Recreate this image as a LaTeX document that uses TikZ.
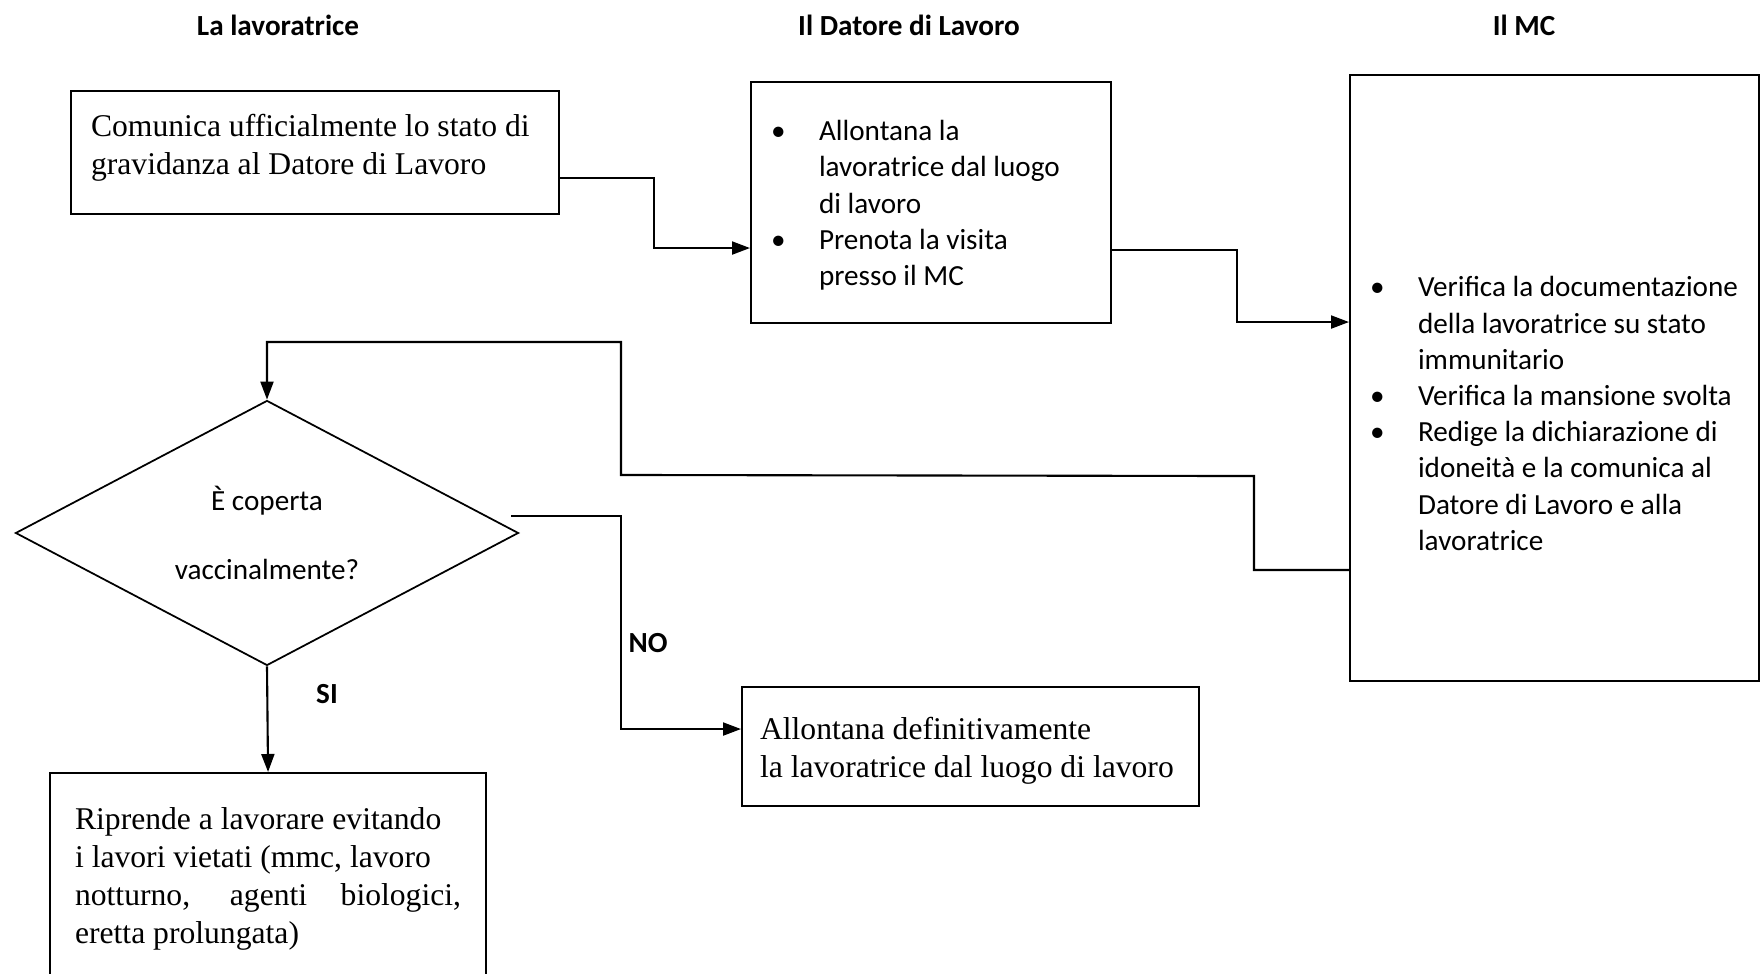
\documentclass[tikz,border=0pt]{standalone}
\usepackage{fontspec}
\setmainfont{Liberation Serif}
\newfontfamily\carlito{Carlito}
\usetikzlibrary{arrows.meta,shapes.geometric}

\setlength{\parindent}{0pt}
\newcommand{\fonttimes}{\fontsize{9}{10.8}\selectfont}
\newcommand{\fontcal}{\carlito\fontsize{8.3}{10.3}\selectfont}
\newcommand{\fonttitolo}{\carlito\bfseries\fontsize{8.3}{10}\selectfont}
\newlength{\rientro}
\setlength{\rientro}{0.58cm}
% una riga con il punto, una riga di seguito
\newcommand{\punto}{\par\makebox[\rientro][l]{\hspace{0.1cm}\textbullet}}
\newcommand{\segue}{\par\hspace*{\rientro}}

\tikzset{
  casella/.style={draw, line width=0.6pt, anchor=north west, inner xsep=0.2cm, inner ysep=0pt, align=flush left, font=\fonttimes},
  elenco/.style={casella, inner xsep=0.1cm, font=\fontcal},
  domanda/.style={diamond, draw, line width=0.5pt, inner sep=0pt, aspect=2, align=center, font=\fontcal},
  titolo/.style={font=\fonttitolo},
  freccia/.style={line width=0.6pt, -{Triangle[length=1.8mm,width=1.3mm]}}
}

\begin{document}
\begin{tikzpicture}
\useasboundingbox (0,0) rectangle (17.6,-9.74);
% intestazioni
\node[titolo] (tlav) at (2.78,-0.25) {La lavoratrice};
\node[titolo] (tdat) at (9.09,-0.25) {Il Datore di Lavoro};
\node[titolo] (tmc) at (15.24,-0.25) {Il MC};
% caselle
\node[casella, text width=4.48cm, minimum height=1.23cm] (comunica) at (0.70,-0.90)
  {Comunica ufficialmente lo stato di\\gravidanza al Datore di Lavoro\rule[-4.6pt]{0pt}{0pt}};
\node[elenco, text width=3.40cm, minimum height=2.41cm] (allontana) at (7.50,-0.81)
  {\punto Allontana la \segue lavoratrice dal luogo \segue di lavoro
   \punto Prenota la visita \segue presso il MC\rule[-4.3pt]{0pt}{0pt}};
\node[elenco, text width=3.89cm, minimum height=6.06cm] (mc) at (13.49,-0.74)
  {\punto\rule{0pt}{25pt}Verifica la documentazione \segue della lavoratrice su stato \segue immunitario
   \punto Verifica la mansione svolta
   \punto Redige la dichiarazione di \segue idoneità e la comunica al \segue Datore di Lavoro e alla \segue lavoratrice};
\node[domanda, minimum width=5.03cm, minimum height=2.65cm] (coperta) at (2.67,-5.33)
  {È coperta\\[9.4pt]vaccinalmente?};
\node[casella, inner xsep=0.18cm, text width=4.21cm, minimum height=1.19cm] (definitiva) at (7.41,-6.86)
  {\rule{0pt}{8.7pt}Allontana definitivamente\\la lavoratrice dal luogo di lavoro};
\node[casella, inner xsep=0.25cm, text width=3.86cm, minimum height=2.11cm] (riprende) at (0.49,-7.72)
  {Riprende a lavorare evitando\\i lavori vietati (mmc, lavoro\\\makebox[\hsize][s]{notturno, agenti biologici,}\\eretta prolungata)};
% etichette
\node[titolo] (no) at (6.48,-6.43) {NO};
\node[titolo] (si) at (3.27,-6.94) {SI};
% frecce
\draw[freccia] ([yshift=-0.255cm]comunica.east) -- ++(0.94,0) |- ([yshift=-0.455cm]allontana.west);
\draw[freccia] ([yshift=-0.475cm]allontana.east) -- ++(1.25,0) |- ([yshift=0.56cm]mc.west);
\draw[freccia] ([yshift=-1.92cm]mc.west) -- ++(-0.95,0) -- ++(0,0.94) -- (6.21,-4.75) -- (6.21,-3.42) -| (coperta.north);
\draw[freccia] ([shift={(-0.08cm,0.17cm)}]coperta.east) -- ++(1.10,0) |- ([yshift=0.175cm]definitiva.west);
\draw[freccia] (coperta.south) -- (riprende.north);
\end{tikzpicture}
\end{document}
